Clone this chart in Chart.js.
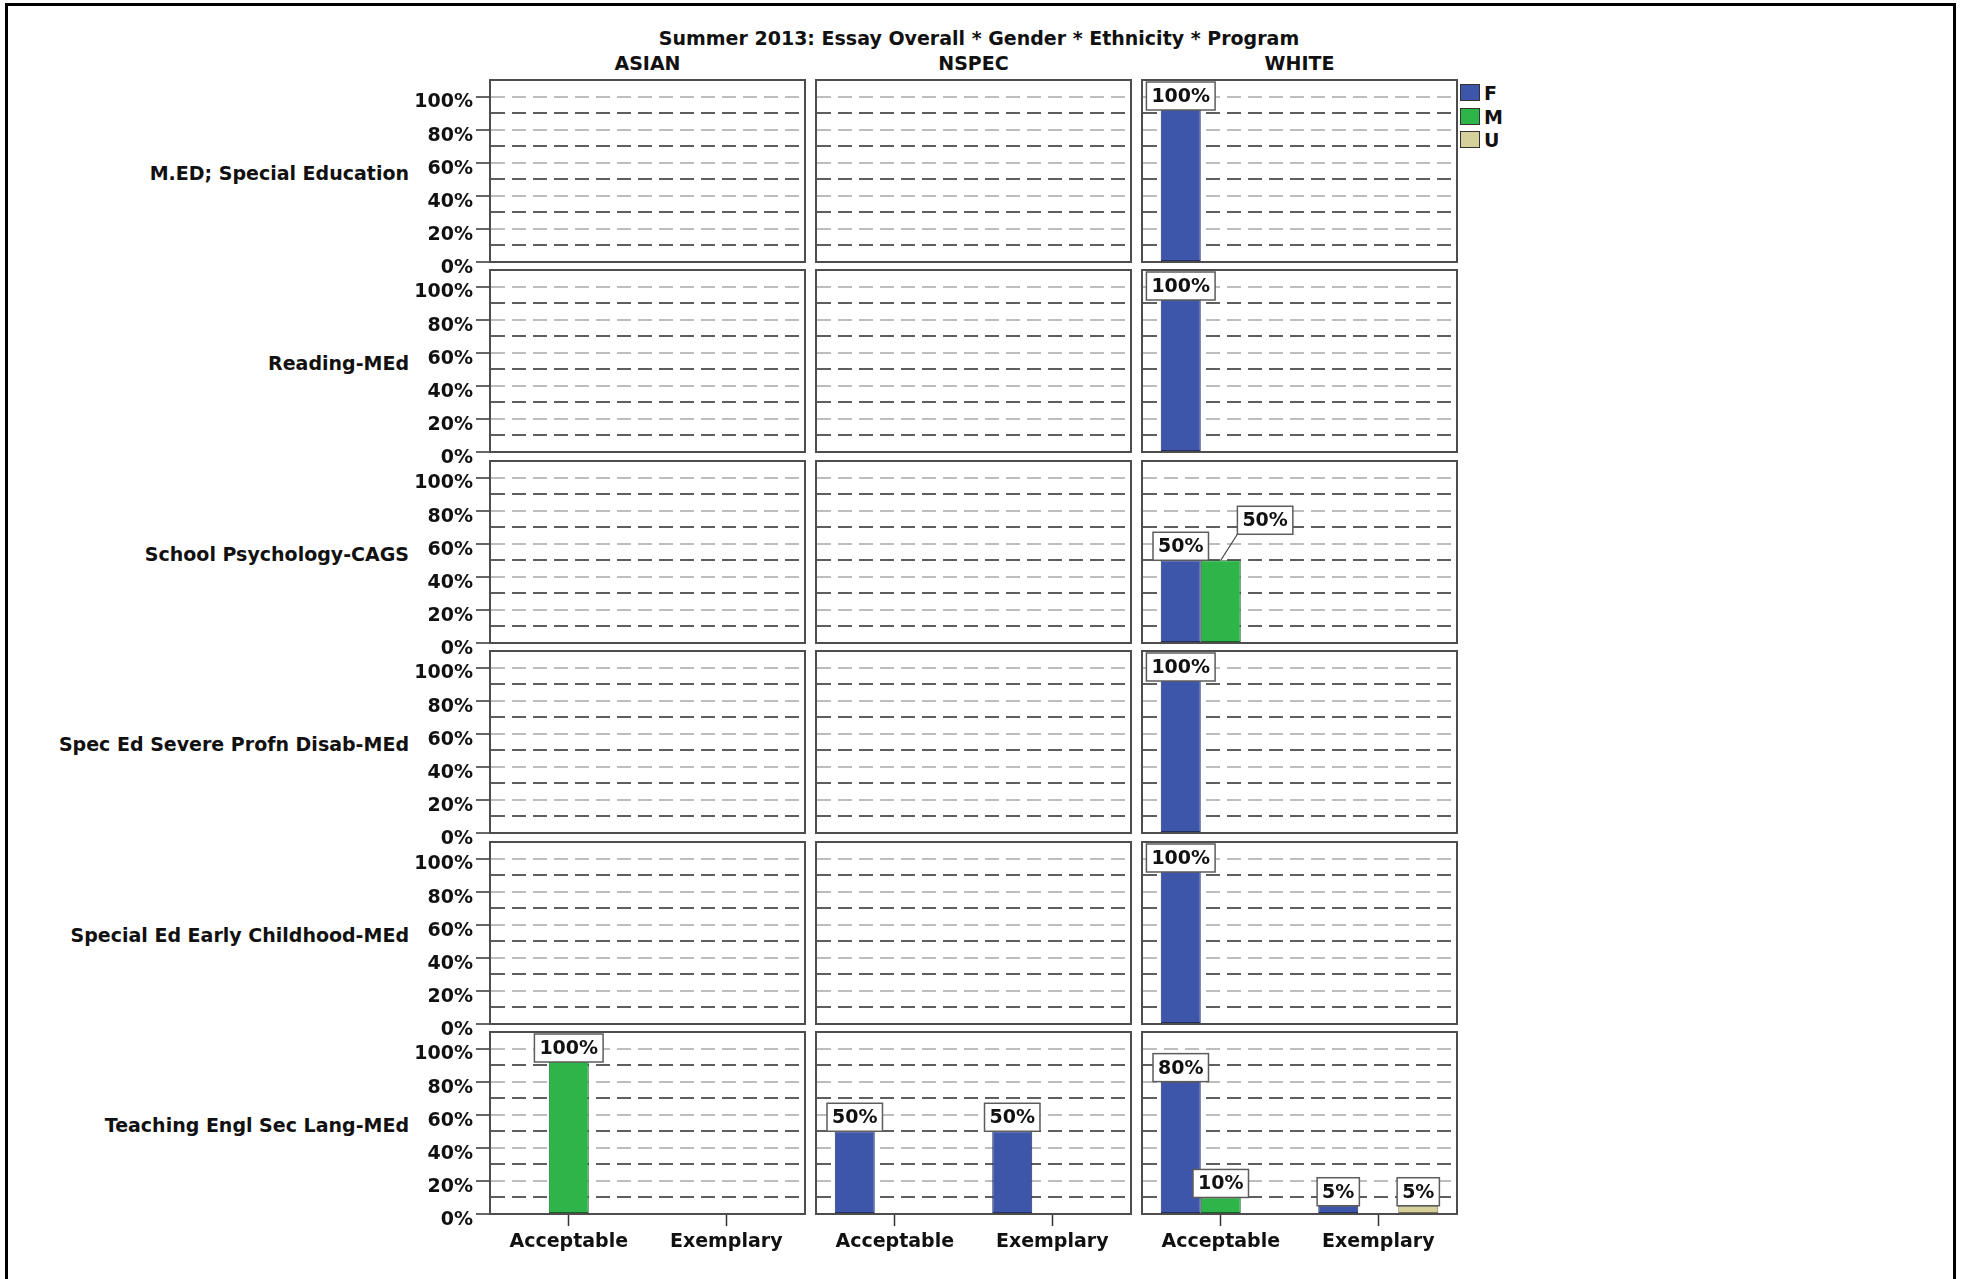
<!DOCTYPE html>
<html>
<head>
<meta charset="utf-8">
<script src="https://cdn.jsdelivr.net/npm/chart.js@4.4.1/dist/chart.umd.min.js"></script>
<style>
html,body{margin:0;padding:0;background:#fff;}
body{width:1963px;height:1279px;position:relative;overflow:hidden;font-family:"DejaVu Sans",sans-serif;font-weight:bold;color:#111;}
.txt{position:absolute;font-size:19px;line-height:22px;white-space:nowrap;}
.frame{position:absolute;background:#000;}
.sw{position:absolute;width:18px;height:15px;border:1.5px solid #333;}
canvas{position:absolute;}
</style>
</head>
<body>
<script>
// ---------------- DATA ----------------
const chartTitle = 'Summer 2013: Essay Overall * Gender * Ethnicity * Program';
const programs = [
  'M.ED; Special Education',
  'Reading-MEd',
  'School Psychology-CAGS',
  'Spec Ed Severe Profn Disab-MEd',
  'Special Ed Early Childhood-MEd',
  'Teaching Engl Sec Lang-MEd'
];
const ethnicities = ['ASIAN', 'NSPEC', 'WHITE'];
const essayLevels = ['Acceptable', 'Exemplary'];
const genders = ['F', 'M', 'U'];
const yTickLabels = ['0%', '20%', '40%', '60%', '80%', '100%'];

// percent per [program][ethnicity][essay level]
const femalePct = [
  [[0, 0], [0, 0], [100, 0]],
  [[0, 0], [0, 0], [100, 0]],
  [[0, 0], [0, 0], [50, 0]],
  [[0, 0], [0, 0], [100, 0]],
  [[0, 0], [0, 0], [100, 0]],
  [[0, 0], [50, 50], [80, 5]]
];
const malePct = [
  [[0, 0], [0, 0], [0, 0]],
  [[0, 0], [0, 0], [0, 0]],
  [[0, 0], [0, 0], [50, 0]],
  [[0, 0], [0, 0], [0, 0]],
  [[0, 0], [0, 0], [0, 0]],
  [[100, 0], [0, 0], [10, 0]]
];
const unknownPct = [
  [[0, 0], [0, 0], [0, 0]],
  [[0, 0], [0, 0], [0, 0]],
  [[0, 0], [0, 0], [0, 0]],
  [[0, 0], [0, 0], [0, 0]],
  [[0, 0], [0, 0], [0, 0]],
  [[0, 0], [0, 0], [0, 5]]
];
const seriesByGender = [femalePct, malePct, unknownPct];

// ---------------- STYLE / LAYOUT ----------------
const genderColors = ['#3D56A9', '#2EB549', '#D6D09B'];
const genderBorders = ['#232f63', '#1c5e2a', '#77724e'];
const FONT = '"DejaVu Sans", sans-serif';
const PANEL_W = 315, PANEL_H = 182;
const COL_X = [490, 816, 1142];
const ROW_Y = [80, 270, 461, 651, 842, 1032];

Chart.defaults.font.family = FONT;
Chart.defaults.font.size = 19;
Chart.defaults.font.weight = 'bold';
Chart.defaults.color = '#111';

function addEl(cls, css, text) {
  const d = document.createElement('div');
  d.className = cls;
  Object.assign(d.style, css);
  if (text !== undefined) d.textContent = text;
  document.body.appendChild(d);
  return d;
}

// page frame
addEl('frame', {left: '5px', top: '3px', width: '1951px', height: '3px'});
addEl('frame', {left: '5px', top: '3px', width: '3px', height: '1276px'});
addEl('frame', {left: '1953px', top: '3px', width: '3px', height: '1276px'});

// title & headers
addEl('txt', {left: '979px', top: '38px', transform: 'translate(-50%,-50%)'}, chartTitle);
ethnicities.forEach((e, c) => {
  addEl('txt', {left: (COL_X[c] + PANEL_W / 2) + 'px', top: '63px', transform: 'translate(-50%,-50%)'}, e);
});
programs.forEach((p, r) => {
  addEl('txt', {right: (1963 - 409) + 'px', top: (ROW_Y[r] + PANEL_H / 2 + 2) + 'px', transform: 'translateY(-50%)'}, p);
});
// legend
genders.forEach((g, i) => {
  const y = 84 + i * 23.5;
  addEl('sw', {left: '1460px', top: y + 'px', background: genderColors[i]});
  addEl('txt', {left: '1484px', top: (y + 9) + 'px', transform: 'translateY(-50%)'}, g);
});

// ---------------- PLUGINS ----------------
const framePlugin = {
  id: 'panelFrame',
  beforeDatasetsDraw(chart) {
    const a = chart.chartArea, ctx = chart.ctx;
    ctx.save();
    ctx.strokeStyle = '#4d4d4d';
    ctx.lineWidth = 2;
    ctx.setLineDash([]);
    ctx.strokeRect(a.left, a.top, a.right - a.left, a.bottom - a.top);
    ctx.restore();
  }
};

const labelPlugin = {
  id: 'barLabels',
  afterDatasetsDraw(chart) {
    const ctx = chart.ctx, area = chart.chartArea;
    ctx.save();
    ctx.font = 'bold 19px ' + FONT;
    ctx.textAlign = 'center';
    ctx.textBaseline = 'middle';
    const placed = [];
    chart.data.datasets.forEach((ds, di) => {
      const meta = chart.getDatasetMeta(di);
      meta.data.forEach((bar, i) => {
        const v = ds.data[i];
        if (!v) return;
        const txt = v + '%';
        const w = ctx.measureText(txt).width + 10, h = 28;
        let left = bar.x - w / 2, top = bar.y - h;
        if (top < area.top + 2) top = area.top + 2;
        const overlaps = (l, t) => placed.some(b => l < b.l + b.w && l + w > b.l && t < b.t + b.h && t + h > b.t);
        let moved = false;
        if (overlaps(left, top)) { left += w * 0.8; top -= h - 2; moved = true; }
        if (moved) {
          ctx.strokeStyle = '#444';
          ctx.lineWidth = 1.2;
          ctx.beginPath();
          ctx.moveTo(left, top + h);
          ctx.lineTo(bar.x, bar.y);
          ctx.stroke();
        }
        ctx.fillStyle = '#fff';
        ctx.fillRect(left, top, w, h);
        ctx.strokeStyle = '#5c5c5c';
        ctx.lineWidth = 1.5;
        ctx.strokeRect(left, top, w, h);
        ctx.fillStyle = '#111';
        ctx.fillText(txt, left + w / 2, top + h / 2 + 1);
        placed.push({l: left, t: top, w, h});
      });
    });
    ctx.restore();
  }
};

// ---------------- PANELS ----------------
programs.forEach((prog, r) => {
  ethnicities.forEach((eth, c) => {
    const leftM = c === 0 ? 90 : 6;
    const rightM = 6;
    const topM = 12;
    const bottomM = r === programs.length - 1 ? 52 : 16;
    const W = leftM + PANEL_W + rightM;
    const H = topM + PANEL_H + bottomM;
    const cv = document.createElement('canvas');
    cv.width = W; cv.height = H;
    cv.style.left = (COL_X[c] - leftM) + 'px';
    cv.style.top = (ROW_Y[r] - topM) + 'px';
    cv.style.width = W + 'px';
    cv.style.height = H + 'px';
    document.body.appendChild(cv);

    const datasets = genders.map((g, gi) => ({
      label: g,
      data: seriesByGender[gi][r][c],
      backgroundColor: genderColors[gi],
      borderColor: genderBorders[gi],
      borderWidth: ctx => (ctx.raw ? 1 : 0),
      borderSkipped: false,
      barPercentage: 1.0,
      categoryPercentage: 0.762
    }));

    new Chart(cv, {
      type: 'bar',
      data: {labels: essayLevels, datasets},
      plugins: [framePlugin, labelPlugin],
      options: {
        responsive: false,
        animation: false,
        events: [],
        layout: {padding: {top: topM, right: rightM, left: 0, bottom: 0}},
        plugins: {legend: {display: false}, tooltip: {enabled: false}, title: {display: false}},
        scales: {
          x: {
            type: 'category',
            offset: true,
            grid: {
              offset: false,
              drawOnChartArea: false,
              drawTicks: r === programs.length - 1,
              tickLength: 12,
              tickColor: '#333',
              tickWidth: 1.5
            },
            border: {display: true, color: '#4d4d4d', width: 2},
            ticks: {
              display: r === programs.length - 1,
              padding: 5,
              autoSkip: false,
              maxRotation: 0,
              color: '#111',
              font: {family: FONT, size: 19, weight: 'bold'}
            },
            afterFit: s => { s.height = bottomM; s.paddingLeft = 0; s.paddingRight = 0; }
          },
          y: {
            min: 0,
            max: 110,
            ticks: {
              stepSize: 10,
              autoSkip: false,
              display: c === 0,
              padding: 3,
              labelOffset: 6,
              color: '#111',
              font: {family: FONT, size: 19, weight: 'bold'},
              callback: v => (v % 20 === 0 ? yTickLabels[v / 20] : '')
            },
            grid: {
              color: ctx => (ctx.tick && ctx.tick.value % 20 === 0 ? '#bdbdbd' : '#5e5e5e'),
              lineWidth: 2,
              drawTicks: c === 0,
              tickLength: 14,
              tickWidth: 1.5,
              tickColor: ctx => (ctx.tick && ctx.tick.value % 20 === 0 && ctx.tick.value <= 100 ? '#333' : 'rgba(0,0,0,0)')
            },
            border: {display: true, color: '#4d4d4d', width: 2, dash: [14, 7]},
            afterFit: s => { s.width = leftM; s.paddingTop = 0; s.paddingBottom = 0; }
          }
        }
      }
    });
  });
});
</script>
</body>
</html>
